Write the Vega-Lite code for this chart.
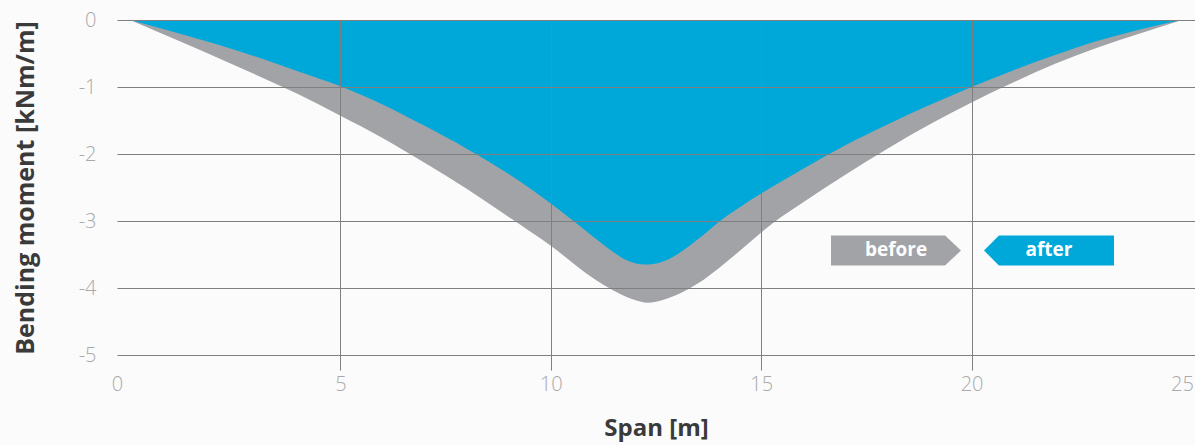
{
  "$schema": "https://vega.github.io/schema/vega-lite/v6.json",
  "autosize": {"type": "none"},
  "padding": {"left": 117, "top": 20, "right": 0, "bottom": 90},
  "width": 1078,
  "height": 335,
  "background": "#fbfbfb",
  "config": {"view": {"stroke": null}, "font": "Open Sans"},
  "data": {"values": [
    {"x": 0, "m": 0, "series": "before"},
    {"x": 1, "m": -0.27, "series": "before"},
    {"x": 2, "m": -0.54, "series": "before"},
    {"x": 3, "m": -0.82, "series": "before"},
    {"x": 4, "m": -1.11, "series": "before"},
    {"x": 5, "m": -1.43, "series": "before"},
    {"x": 6, "m": -1.76, "series": "before"},
    {"x": 7, "m": -2.13, "series": "before"},
    {"x": 8, "m": -2.52, "series": "before"},
    {"x": 9, "m": -2.94, "series": "before"},
    {"x": 10, "m": -3.37, "series": "before"},
    {"x": 11, "m": -3.85, "series": "before"},
    {"x": 11.5, "m": -4.04, "series": "before"},
    {"x": 12, "m": -4.18, "series": "before"},
    {"x": 12.3, "m": -4.22, "series": "before"},
    {"x": 12.7, "m": -4.17, "series": "before"},
    {"x": 13, "m": -4.1, "series": "before"},
    {"x": 13.5, "m": -3.93, "series": "before"},
    {"x": 14, "m": -3.7, "series": "before"},
    {"x": 14.5, "m": -3.44, "series": "before"},
    {"x": 15, "m": -3.17, "series": "before"},
    {"x": 15.5, "m": -2.93, "series": "before"},
    {"x": 16, "m": -2.72, "series": "before"},
    {"x": 17, "m": -2.31, "series": "before"},
    {"x": 18, "m": -1.92, "series": "before"},
    {"x": 19, "m": -1.56, "series": "before"},
    {"x": 20, "m": -1.23, "series": "before"},
    {"x": 21, "m": -0.93, "series": "before"},
    {"x": 22, "m": -0.65, "series": "before"},
    {"x": 23, "m": -0.41, "series": "before"},
    {"x": 24, "m": -0.2, "series": "before"},
    {"x": 25, "m": 0, "series": "before"},
    {"x": 0, "m": 0, "series": "after"},
    {"x": 1, "m": -0.17, "series": "after"},
    {"x": 2, "m": -0.35, "series": "after"},
    {"x": 3, "m": -0.55, "series": "after"},
    {"x": 4, "m": -0.77, "series": "after"},
    {"x": 5, "m": -0.99, "series": "after"},
    {"x": 6, "m": -1.26, "series": "after"},
    {"x": 7, "m": -1.58, "series": "after"},
    {"x": 8, "m": -1.92, "series": "after"},
    {"x": 9, "m": -2.3, "series": "after"},
    {"x": 10, "m": -2.74, "series": "after"},
    {"x": 11, "m": -3.23, "series": "after"},
    {"x": 11.5, "m": -3.47, "series": "after"},
    {"x": 11.75, "m": -3.57, "series": "after"},
    {"x": 12, "m": -3.63, "series": "after"},
    {"x": 12.25, "m": -3.65, "series": "after"},
    {"x": 12.6, "m": -3.62, "series": "after"},
    {"x": 13, "m": -3.5, "series": "after"},
    {"x": 13.5, "m": -3.27, "series": "after"},
    {"x": 14, "m": -3.01, "series": "after"},
    {"x": 14.5, "m": -2.79, "series": "after"},
    {"x": 15, "m": -2.59, "series": "after"},
    {"x": 16, "m": -2.22, "series": "after"},
    {"x": 17, "m": -1.87, "series": "after"},
    {"x": 18, "m": -1.56, "series": "after"},
    {"x": 19, "m": -1.27, "series": "after"},
    {"x": 20, "m": -1.0, "series": "after"},
    {"x": 21, "m": -0.75, "series": "after"},
    {"x": 22, "m": -0.52, "series": "after"},
    {"x": 23, "m": -0.31, "series": "after"},
    {"x": 24, "m": -0.14, "series": "after"},
    {"x": 25, "m": 0, "series": "after"}
  ]},
  "mark": {"type": "area", "interpolate": "monotone", "opacity": 1},
  "encoding": {
    "x": {
      "field": "x", "type": "quantitative",
      "scale": {"domain": [-0.31, 25.31], "nice": false, "zero": false},
      "axis": {
        "values": [0, 5, 10, 15, 20, 25],
        "zindex": 1,
        "domain": false,
        "grid": true,
        "gridColor": "#7f7f7f",
        "gridWidth": 1,
        "gridOpacity": {"condition": {"test": "datum.value == 0 || datum.value == 25", "value": 0}, "value": 1},
        "ticks": true,
        "tickSize": 15,
        "tickColor": "#7f7f7f",
        "tickOpacity": {"condition": {"test": "datum.value == 0 || datum.value == 25", "value": 0}, "value": 1},
        "labelOffset": {"condition": {"test": "datum.value == 0", "value": -13}, "value": 0},
        "labelFontSize": 20,
        "labelFontWeight": 300,
        "labelColor": "#a9a9a9",
        "labelPadding": 4,
        "labelFlush": false,
        "title": "Span [m]",
        "titleFontSize": 24,
        "titleFontWeight": "bold",
        "titleColor": "#3a3a3a",
        "titlePadding": 22
      }
    },
    "y": {
      "field": "m", "type": "quantitative",
      "stack": null,
      "scale": {"domain": [-5, 0], "nice": false},
      "axis": {
        "values": [0, -1, -2, -3, -4, -5],
        "zindex": 1,
        "domain": false,
        "ticks": false,
        "grid": true,
        "gridColor": "#7f7f7f",
        "gridWidth": 1,
        "labelExpr": "datum.value < 0 ? '-' + abs(datum.value) : '' + datum.value",
        "labelFontSize": 20,
        "labelFontWeight": 300,
        "labelColor": "#a9a9a9",
        "labelPadding": 21,
        "title": "Bending moment [kNm/m]",
        "titleFontSize": 25,
        "titleFontWeight": "bold",
        "titleColor": "#3a3a3a",
        "titlePadding": 40
      }
    },
    "color": {
      "field": "series", "type": "nominal",
      "scale": {"domain": ["before", "after"], "range": ["#a2a3a7", "#00a8d9"]},
      "legend": {
        "title": null,
        "orient": "none",
        "legendX": 714,
        "legendY": 165,
        "direction": "horizontal",
        "padding": 0,
        "symbolSize": 16900,
        "symbolStrokeWidth": 0,
        "symbolOpacity": 1,
        "columnPadding": 23,
        "labelAlign": "center",
        "labelOffset": -65,
        "labelColor": "white",
        "labelFontSize": 19,
        "labelFontWeight": "bold",
        "labelFont": "Open Sans",
        "encode": {
          "symbols": {"update": {"shape": {"signal": "datum.value === 'before' ? 'M-1,-0.231L0.754,-0.231L1,0L0.754,0.231L-1,0.231Z' : 'M-1,0L-0.77,-0.231L1,-0.231L1,0.231L-0.77,0.231Z'"}}}
        }
      }
    }
  }
}
